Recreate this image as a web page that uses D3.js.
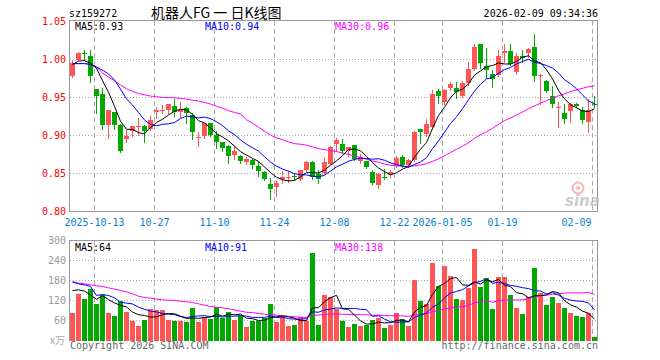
<!DOCTYPE html>
<html><head><meta charset="utf-8">
<script src="https://cdn.jsdelivr.net/npm/d3@7"></script>
<style>body{margin:0;background:#fff;} svg{display:block;}</style>
</head><body>
<svg id="c" width="660" height="360"></svg>
<script>
const dates = ["2025-09-29","2025-09-30","2025-10-09","2025-10-10","2025-10-13","2025-10-14","2025-10-15","2025-10-16","2025-10-17","2025-10-20","2025-10-21","2025-10-22","2025-10-23","2025-10-24","2025-10-27","2025-10-28","2025-10-29","2025-10-30","2025-10-31","2025-11-03","2025-11-04","2025-11-05","2025-11-06","2025-11-07","2025-11-10","2025-11-11","2025-11-12","2025-11-13","2025-11-14","2025-11-17","2025-11-18","2025-11-19","2025-11-20","2025-11-21","2025-11-24","2025-11-25","2025-11-26","2025-11-27","2025-11-28","2025-12-01","2025-12-02","2025-12-03","2025-12-04","2025-12-05","2025-12-08","2025-12-09","2025-12-10","2025-12-11","2025-12-12","2025-12-15","2025-12-16","2025-12-17","2025-12-18","2025-12-19","2025-12-22","2025-12-23","2025-12-24","2025-12-25","2025-12-26","2025-12-29","2025-12-30","2025-12-31","2026-01-05","2026-01-06","2026-01-07","2026-01-08","2026-01-09","2026-01-12","2026-01-13","2026-01-14","2026-01-15","2026-01-16","2026-01-19","2026-01-20","2026-01-21","2026-01-22","2026-01-23","2026-01-26","2026-01-27","2026-01-28","2026-01-29","2026-01-30","2026-02-02","2026-02-03","2026-02-04","2026-02-05","2026-02-06","2026-02-09"];

const opens  = [0.978,1.000,1.008,1.004,0.961,0.954,0.914,0.931,0.914,0.895,0.906,0.911,0.913,0.909,0.931,0.932,0.934,0.939,0.931,0.936,0.927,0.8965,0.8995,0.916,0.901,0.892,0.886,0.874,0.873,0.865,0.868,0.860,0.852,0.8366,0.832,0.843,0.845,0.8465,0.843,0.854,0.865,0.850,0.8506,0.863,0.889,0.8886,0.879,0.887,0.866,0.866,0.852,0.835,0.845,0.8475,0.860,0.872,0.8615,0.868,0.9086,0.902,0.911,0.958,0.9436,0.962,0.963,0.952,0.9685,0.987,1.020,0.991,0.9806,0.9793,1.009,1.011,0.984,1.004,1.0085,1.017,0.978,0.972,0.952,0.937,0.9296,0.9327,0.941,0.934,0.918,0.942];
const highs  = [1.000,1.010,1.013,1.012,0.961,0.962,0.934,0.931,0.915,0.907,0.913,0.923,0.914,0.926,0.938,0.940,0.942,0.948,0.944,0.937,0.929,0.905,0.917,0.917,0.906,0.892,0.887,0.886,0.875,0.872,0.869,0.866,0.853,0.844,0.842,0.853,0.853,0.851,0.855,0.867,0.866,0.854,0.872,0.886,0.8965,0.896,0.8855,0.888,0.876,0.867,0.855,0.851,0.856,0.855,0.873,0.874,0.869,0.906,0.909,0.9214,0.9597,0.9606,0.961,0.9705,0.9705,0.9715,0.9967,1.0199,1.0208,1.0156,0.9859,1.013,1.0208,1.0208,1.0085,1.012,1.0156,1.034,0.981,0.973,0.9649,0.9444,0.9414,0.9425,0.943,0.9378,0.9475,0.9518];
const lows   = [0.977,0.999,1.000,0.971,0.930,0.908,0.897,0.909,0.878,0.891,0.899,0.901,0.891,0.907,0.923,0.929,0.930,0.926,0.924,0.917,0.896,0.886,0.8965,0.899,0.884,0.880,0.864,0.869,0.864,0.863,0.857,0.847,0.841,0.816,0.821,0.838,0.839,0.842,0.842,0.853,0.843,0.837,0.8497,0.862,0.880,0.8775,0.8724,0.868,0.864,0.857,0.836,0.831,0.8428,0.845,0.859,0.859,0.859,0.867,0.8907,0.900,0.909,0.9423,0.942,0.960,0.9488,0.951,0.966,0.986,0.9894,0.9763,0.964,0.978,0.9967,0.993,0.9815,0.9967,1.0033,0.9719,0.942,0.957,0.9378,0.911,0.9169,0.918,0.937,0.9169,0.905,0.9378];
const closes = [0.996,1.009,1.007,0.978,0.952,0.914,0.934,0.914,0.880,0.899,0.913,0.913,0.906,0.921,0.933,0.934,0.941,0.931,0.9335,0.929,0.905,0.8986,0.916,0.901,0.892,0.883,0.873,0.880,0.866,0.869,0.8615,0.853,0.843,0.830,0.838,0.845,0.8455,0.846,0.854,0.8645,0.846,0.843,0.8654,0.885,0.894,0.879,0.885,0.869,0.872,0.858,0.8375,0.850,0.8445,0.852,0.871,0.861,0.868,0.905,0.9047,0.915,0.9545,0.952,0.9597,0.9675,0.9575,0.9685,0.987,1.017,0.995,0.986,0.975,1.004,1.0107,0.994,1.004,1.002,1.014,0.978,0.980,0.959,0.942,0.938,0.922,0.9414,0.939,0.921,0.934,0.941];
const volumes = [84,141,126,156,111,137,84,75,120,87,60,45,63,96,91,91,63,60,60,57,99,57,72,66,102,68,87,63,75,42,60,60,68,111,57,75,45,48,72,60,264,48,138,132,96,60,42,51,45,48,63,69,39,48,84,66,45,183,120,110,234,165,225,195,126,123,159,276,162,189,96,192,192,138,99,81,132,219,144,108,132,114,99,82,74,71,83,10];

// moving-average values before a full window exists
const priceMA5Head  = [0.9933,0.998,0.9985,0.995];
const priceMA10Head = [0.9946,0.9946,0.9946,0.9933,0.990,0.986,0.981,0.973,0.961];
const priceMA30Head = [0.9946,0.9946,0.9946,0.9940,0.9900,0.9823,0.9770,0.9719,0.9665,0.9615,0.9580,0.9553,0.9535,0.9519,0.9510,0.9502,0.9499,0.9496,0.9488,0.9479,0.9466,0.9453,0.9435,0.9414,0.9385,0.9360,0.9326,0.9304,0.9283];
const volMA5Head  = [150,152,148,137];
const volMA10Head = [175,170,167,162,135,138,135,128,115];
const volMA30Head = [177,172,170,167,164,162,158,154,150,146,140,133,129,127,124,122,121,120,118,116,114,110,106,102,100,98,95,92,88];

const priceTicks = [0.80,0.85,0.90,0.95,1.00,1.05];
const volTicks = [60,120,180,240,300];
const tickDates  = ["2025-10-13","2025-10-27","2025-11-10","2025-11-24","2025-12-08","2025-12-22","2026-01-05","2026-01-19","2026-02-09"];
const tickLabels = ["2025-10-13","10-27","11-10","11-24","12-08","12-22","2026-01-05","01-19","02-09"];
const priceMALabels = ["MA5:0.93","MA10:0.94","MA30:0.96"];
const volMALabels = ["MA5:64","MA10:91","MA30:138"];
const maColors = ["#000000","#0000ff","#ff00ff"];
const headerCode = "sz159272";
const headerTitle = "机器人FG 一 日K线图";
const headerTime = "2026-02-09 09:34:36";

const RED = "#ff5555", GREEN = "#00a800";
const mono = "'DejaVu Sans Mono', monospace";

function ma(vals, n, head){
  return vals.map((v,i)=> i < head.length ? head[i] : d3.mean(vals.slice(i-n+1, i+1)));
}

const svg = d3.select("#c");
const n = dates.length;
const xi = d3.scaleLinear().domain([0, n]).range([70, 598]);
const y = d3.scaleLinear().domain([0.80, 1.05]).range([211.5, 21.5]);
const yv = d3.scaleLinear().domain([0, 300]).range([340.5, 240.5]);
const tickIdx = tickDates.map(d => dates.indexOf(d));

// grid: price
const g = svg.append("g").attr("shape-rendering","crispEdges");
g.selectAll(".hp").data(priceTicks.filter(t=>t>0.801 && t<1.049)).enter().append("line")
  .attr("x1",70).attr("x2",597).attr("y1",d=>y(d)).attr("y2",d=>y(d))
  .attr("stroke","#aaa").attr("stroke-dasharray","1,2");
g.selectAll(".hv").data(volTicks.filter(t=>t<300)).enter().append("line")
  .attr("x1",70).attr("x2",597).attr("y1",d=>yv(d)).attr("y2",d=>yv(d))
  .attr("stroke","#aaa").attr("stroke-dasharray","1,2");
tickIdx.forEach(i=>{
  g.append("line").attr("x1",xi(i)+0.5).attr("x2",xi(i)+0.5).attr("y1",21).attr("y2",211)
    .attr("stroke","#aaa").attr("stroke-dasharray","5,3");
  g.append("line").attr("x1",xi(i)+0.5).attr("x2",xi(i)+0.5).attr("y1",241).attr("y2",340)
    .attr("stroke","#aaa").attr("stroke-dasharray","5,3");
});

// frames
g.append("path").attr("d","M69.5,211.5V20.5H597.5V211.5H69.5").attr("fill","none").attr("stroke","#999");
g.append("path").attr("d","M69.5,341V240.5H597.5V341").attr("fill","none").attr("stroke","#999");

// sina logo (watermark)
const logo = svg.append("g").attr("opacity",0.75);
logo.append("circle").attr("cx",578).attr("cy",188).attr("r",5.5).attr("fill","none").attr("stroke","#f4a0a0").attr("stroke-width",2);
logo.append("circle").attr("cx",578).attr("cy",188).attr("r",2).attr("fill","#f4a0a0");
logo.append("text").attr("x",565).attr("y",206).text("sina")
  .attr("font-family","'DejaVu Sans', sans-serif").attr("font-size",15).attr("font-weight","bold")
  .attr("font-style","italic").attr("fill","#bbb");

// candles
const candles = svg.append("g").attr("shape-rendering","crispEdges");
const idx = d3.range(n);
const col = i => closes[i] >= opens[i] ? RED : GREEN;
candles.selectAll(".w").data(idx).enter().append("line")
  .attr("x1",i=>xi(i)+2.5).attr("x2",i=>xi(i)+2.5)
  .attr("y1",i=>Math.round(y(highs[i]))).attr("y2",i=>Math.round(y(lows[i]))+1)
  .attr("stroke",col);
candles.selectAll(".b").data(idx).enter().append("rect")
  .attr("x",i=>xi(i)).attr("width",5)
  .attr("y",i=>Math.round(y(Math.max(opens[i],closes[i]))))
  .attr("height",i=>Math.max(1, Math.round(y(Math.min(opens[i],closes[i]))) - Math.round(y(Math.max(opens[i],closes[i])))))
  .attr("fill",col);

// volume bars
candles.selectAll(".v").data(idx).enter().append("rect")
  .attr("x",i=>xi(i)).attr("width",5)
  .attr("y",i=>Math.round(yv(volumes[i])))
  .attr("height",i=>341 - Math.round(yv(volumes[i])))
  .attr("fill",col);

// moving averages
const pMA = [ma(closes,5,priceMA5Head), ma(closes,10,priceMA10Head), ma(closes,30,priceMA30Head)];
const vMA = [ma(volumes,5,volMA5Head), ma(volumes,10,volMA10Head), ma(volumes,30,volMA30Head)];
const lp = d3.line().x((d,i)=>xi(i)+2.5).y(d=>y(d));
const lv = d3.line().x((d,i)=>xi(i)+2.5).y(d=>yv(d));
[2,1,0].forEach(k=>{
  svg.append("path").attr("d",lp(pMA[k])).attr("fill","none").attr("stroke",maColors[k]).attr("stroke-width",1);
  svg.append("path").attr("d",lv(vMA[k])).attr("fill","none").attr("stroke",maColors[k]).attr("stroke-width",1);
});

// axes
const ax = svg.append("g").attr("transform","translate(66,0)")
  .call(d3.axisLeft(y).tickValues(priceTicks).tickFormat(d3.format(".2f")).tickSize(0).tickPadding(0));
ax.select(".domain").remove();
ax.selectAll("text").attr("fill","#ff0000").attr("font-family",mono).attr("font-size",10);

const av = svg.append("g").attr("transform","translate(66,0)")
  .call(d3.axisLeft(yv).tickValues(volTicks).tickFormat(d3.format("d")).tickSize(0).tickPadding(0));
av.select(".domain").remove();
av.selectAll("text").attr("fill","#999").attr("font-family",mono).attr("font-size",10);
svg.append("text").attr("x",65).attr("y",344).attr("text-anchor","end").text("x万")
  .attr("font-family","'Noto Sans CJK SC', sans-serif").attr("font-size",10).attr("fill","#aaa");

const axb = svg.append("g").attr("transform","translate(0,218.5)")
  .call(d3.axisBottom(xi).tickValues(tickIdx).tickFormat((d,k)=>tickLabels[k]).tickSize(0).tickPadding(0));
axb.select(".domain").remove();
axb.selectAll("text").attr("fill","#0a80d0").attr("font-family",mono).attr("font-size",10);
axb.selectAll("text").each(function(){
  const w = this.getComputedTextLength();
  const t = d3.select(this.parentNode).attr("transform");
  const cx = +t.match(/translate\(([-\d.]+)/)[1];
  if (cx + w/2 > 592) d3.select(this).attr("text-anchor","end").attr("x", 591.5 - cx);
});

// MA legends
const legX = [75, 205, 335];
priceMALabels.forEach((s,k)=>svg.append("text").attr("x",legX[k]).attr("y",29.5).text(s)
  .attr("fill",maColors[k]).attr("font-family",mono).attr("font-size",10));
volMALabels.forEach((s,k)=>svg.append("text").attr("x",legX[k]).attr("y",251).text(s)
  .attr("fill",maColors[k]).attr("font-family",mono).attr("font-size",10));

// header & footer
svg.append("text").attr("x",69).attr("y",17).text(headerCode).attr("font-family",mono).attr("font-size",10).attr("fill","#000");
svg.append("text").attr("x",151).attr("y",17.5).text(headerTitle).attr("font-family","'Noto Sans CJK SC', sans-serif").attr("font-size",14).attr("fill","#000");
svg.append("text").attr("x",598).attr("y",17).attr("text-anchor","end").text(headerTime).attr("font-family",mono).attr("font-size",10).attr("fill","#000");
svg.append("text").attr("x",70).attr("y",349).text("Copyright 2026 SINA.COM").attr("font-family",mono).attr("font-size",10).attr("fill","#666");
svg.append("text").attr("x",598).attr("y",349).attr("text-anchor","end").text("http://finance.sina.com.cn").attr("font-family",mono).attr("font-size",10).attr("fill","#666");
</script>
</body></html>
